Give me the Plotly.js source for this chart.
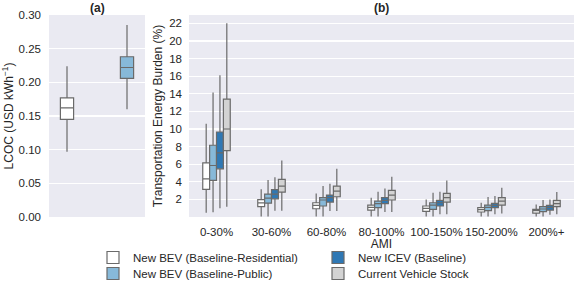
<!DOCTYPE html>
<html>
<head>
<meta charset="utf-8">
<script src="https://cdn.plot.ly/plotly-3.0.1.min.js"></script>
<style>html,body{margin:0;padding:0;background:#fff;}#chart{width:575px;height:283px;}</style>
</head>
<body>
<div id="chart"></div>
<script>
// ---------- Panel (a): LCOC ----------
const lcocNames = ['New BEV (Baseline-Residential)', 'New BEV (Baseline-Public)'];
const lcocLo  = [0.097, 0.160];
const lcocQ1  = [0.145, 0.206];
const lcocMed = [0.162, 0.222];
const lcocQ3  = [0.177, 0.238];
const lcocHi  = [0.224, 0.285];
const lcocTicks = [0.00, 0.05, 0.10, 0.15, 0.20, 0.25, 0.30];

// ---------- Panel (b): Transportation energy burden ----------
const amiCats = ['0-30%', '30-60%', '60-80%', '80-100%', '100-150%', '150-200%', '200%+'];
const seriesNames = ['New BEV (Baseline-Residential)', 'New BEV (Baseline-Public)', 'New ICEV (Baseline)', 'Current Vehicle Stock'];

const resLo  = [0.49, 0.05, 0.05, 0.05, 0.05, 0.05, 0.05];
const resQ1  = [3.13, 1.17, 0.94, 0.79, 0.64, 0.57, 0.45];
const resMed = [4.34, 1.60, 1.32, 1.10, 0.98, 0.83, 0.72];
const resQ3  = [6.15, 1.97, 1.62, 1.36, 1.25, 1.06, 0.87];
const resHi  = [10.6, 3.15, 2.68, 2.19, 2.00, 1.62, 1.43];

const pubLo  = [0.55, 0.05, 0.05, 0.05, 0.05, 0.05, 0.05];
const pubQ1  = [4.15, 1.57, 1.25, 1.06, 0.87, 0.72, 0.60];
const pubMed = [5.85, 2.15, 1.93, 1.51, 1.36, 1.10, 0.91];
const pubQ3  = [8.15, 2.60, 2.19, 1.81, 1.62, 1.36, 1.17];
const pubHi  = [14.15, 4.20, 3.51, 2.87, 2.76, 2.26, 1.93];

const iceLo  = [0.98, 0.72, 0.68, 0.57, 0.30, 0.30, 0.26];
const iceQ1  = [5.47, 2.07, 1.70, 1.51, 1.25, 1.06, 0.79];
const iceMed = [7.29, 2.60, 2.19, 1.89, 1.62, 1.32, 1.10];
const iceQ3  = [9.66, 3.10, 2.49, 2.19, 1.89, 1.55, 1.32];
const iceHi  = [16.1, 4.53, 3.77, 3.25, 2.87, 2.38, 2.00];

const stkLo  = [1.17, 0.72, 0.68, 0.57, 0.30, 0.41, 0.30];
const stkQ1  = [7.55, 2.83, 2.30, 1.93, 1.70, 1.36, 1.17];
const stkMed = [10.0, 3.51, 2.94, 2.49, 2.19, 1.81, 1.51];
const stkQ3  = [13.4, 4.27, 3.51, 3.02, 2.68, 2.19, 1.89];
const stkHi  = [22.0, 6.42, 5.47, 4.57, 4.15, 3.32, 2.83];

const burdenTicks = [2, 4, 6, 8, 10, 12, 14, 16, 18, 20, 22];

const colors = ['#ffffff', '#87b9d9', '#2f78b4', '#d3d3d3'];
const edge = '#6a6a6a';
const FONT = 'Liberation Sans, Arial, Helvetica, sans-serif';

const traces = [];
// panel (a)
for (let i = 0; i < 2; i++) {
  traces.push({
    type: 'box', xaxis: 'x', yaxis: 'y',
    x: [lcocNames[i]], q1: [lcocQ1[i]], median: [lcocMed[i]], q3: [lcocQ3[i]],
    lowerfence: [lcocLo[i]], upperfence: [lcocHi[i]],
    fillcolor: colors[i], line: {color: edge, width: 1.2},
    whiskerwidth: 0, width: 0.22, offsetgroup: 'a', alignmentgroup: 'a',
    boxpoints: false, showlegend: false, hoverinfo: 'skip'
  });
}
// panel (b)
const stats = [
  [resLo, resQ1, resMed, resQ3, resHi],
  [pubLo, pubQ1, pubMed, pubQ3, pubHi],
  [iceLo, iceQ1, iceMed, iceQ3, iceHi],
  [stkLo, stkQ1, stkMed, stkQ3, stkHi]
];
// legend rows: row 1 = Residential, ICEV; row 2 = Public, Stock
const legendOf = ['legend', 'legend2', 'legend', 'legend2'];
const ranks = [1, 1, 2, 2];
for (let s = 0; s < 4; s++) {
  traces.push({
    type: 'box', xaxis: 'x2', yaxis: 'y2', name: seriesNames[s],
    x: amiCats, lowerfence: stats[s][0], q1: stats[s][1], median: stats[s][2],
    q3: stats[s][3], upperfence: stats[s][4],
    fillcolor: colors[s], line: {color: edge, width: 1.2},
    offsetgroup: 'b' + s, alignmentgroup: 'b',
    legend: legendOf[s], legendrank: ranks[s],
    whiskerwidth: 0, boxpoints: false, hoverinfo: 'skip'
  });
}

const W = 575, H = 283, T = 15, B = 66;
const PH = H - T - B;
const legendBase = {
  orientation: 'h', x: 93 / W, xanchor: 'left', yanchor: 'top',
  entrywidth: 180, entrywidthmode: 'pixels', font: {size: 11.5, color: '#262626'},
  bgcolor: 'rgba(0,0,0,0)', traceorder: 'normal'
};
const layout = {
  width: W, height: H,
  margin: {l: 0, r: 0, t: T, b: B, autoexpand: false},
  paper_bgcolor: '#ffffff', plot_bgcolor: '#eaeaf2',
  font: {family: FONT, size: 11.5, color: '#262626'},
  boxmode: 'group', boxgap: 0.5, boxgroupgap: 0,
  showlegend: true,
  xaxis: {
    domain: [49 / W, 145 / W], anchor: 'y', type: 'category',
    categoryarray: lcocNames, range: [-0.3, 1.3], automargin: false,
    showticklabels: false, showgrid: false, zeroline: false, ticks: '', showline: false
  },
  yaxis: {
    anchor: 'x', range: [0, 0.30], tickvals: lcocTicks, tickformat: '.2f', automargin: false,
    gridcolor: '#ffffff', gridwidth: 1.2, zeroline: false, showline: false, ticks: '',
    ticklabelstandoff: 7, tickfont: {size: 11.5},
    title: {text: 'LCOC (USD kWh<sup>−1</sup>)', font: {size: 12}, standoff: 4}
  },
  xaxis2: {
    domain: [189 / W, 574 / W], anchor: 'y2', type: 'category', automargin: false,
    categoryarray: amiCats, range: [-0.5, 6.5],
    showgrid: false, zeroline: false, ticks: '', showline: false,
    ticklabelstandoff: 6, tickfont: {size: 11.5},
    title: {text: 'AMI', font: {size: 12}, standoff: 2}
  },
  yaxis2: {
    anchor: 'x2', range: [0, 22.95], tickvals: burdenTicks, automargin: false,
    gridcolor: '#ffffff', gridwidth: 1.2, zeroline: false, showline: false, ticks: '',
    ticklabelstandoff: 6, tickfont: {size: 11.5},
    title: {text: 'Transportation Energy Burden (%)', font: {size: 12}, standoff: 4}
  },
  legend: Object.assign({}, legendBase, {y: -(243 - (H - B)) / PH}),
  legend2: Object.assign({}, legendBase, {y: -(259 - (H - B)) / PH}),
  annotations: [
    {text: '<b>(a)</b>', xref: 'paper', yref: 'paper', x: 97 / W, y: 1 + (T - 8) / PH,
     showarrow: false, xanchor: 'center', yanchor: 'middle', font: {size: 12}},
    {text: '<b>(b)</b>', xref: 'paper', yref: 'paper', x: 381 / W, y: 1 + (T - 8) / PH,
     showarrow: false, xanchor: 'center', yanchor: 'middle', font: {size: 12}}
  ]
};

Plotly.newPlot('chart', traces, layout, {displayModeBar: false, staticPlot: true});
</script>
</body>
</html>
